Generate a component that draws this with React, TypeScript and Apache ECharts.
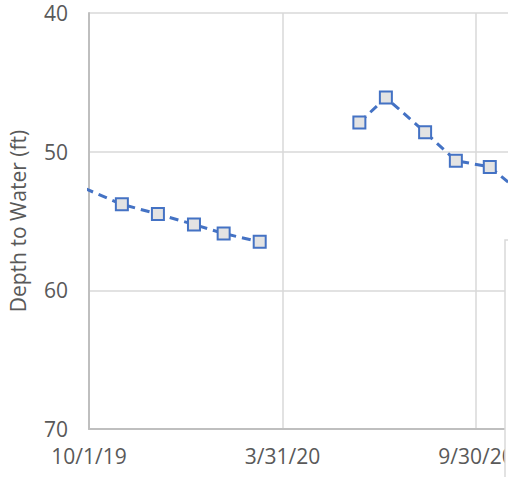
import React, { useEffect, useRef } from "react";
import * as echarts from "echarts";

// Measurement dates (null value = gap in record)
const dates: string[] = [
  "2019-09-01",
  "2019-11-01",
  "2019-12-05",
  "2020-01-08",
  "2020-02-05",
  "2020-03-10",
  "2020-04-20",
  "2020-06-12",
  "2020-07-07",
  "2020-08-13",
  "2020-09-11",
  "2020-10-13",
  "2020-11-12",
];
const depths: (number | null)[] = [
  51.8, 53.8, 54.5, 55.25, 55.9, 56.5, null, 47.9, 46.1, 48.6, 50.65, 51.1, 53.0,
];
const xTickLabels: string[] = ["10/1/19", "3/31/20", "9/30/20", "3/31/21"];
const yTicks: number[] = [40, 50, 60, 70];

const ORIGIN = Date.UTC(2019, 9, 1);
const toDays = (d: string) => {
  const [y, m, dd] = d.split("-").map(Number);
  return (Date.UTC(y, m - 1, dd) - ORIGIN) / 86400000;
};

export default function App() {
  const ref = useRef<HTMLDivElement>(null);
  useEffect(() => {
    if (!ref.current) return;
    const chart = echarts.init(ref.current, undefined, { renderer: "svg" });
    const data = dates.map((d, i) => [toDays(d), depths[i] === null ? "-" : depths[i]]);
    const font = "'Open Sans', 'Noto Sans', sans-serif";
    chart.setOption({
      animation: false,
      backgroundColor: "#ffffff",
      grid: {
        left: 89,
        top: 13,
        right: 30.5,
        bottom: 48,
        containLabel: false,
        outerBoundsMode: "none",
      },
      xAxis: {
        type: "value",
        min: 0,
        max: 547.5,
        interval: 182.5,
        axisLine: { show: true, lineStyle: { color: "#bfbfbf", width: 2 } },
        axisTick: { show: false },
        splitLine: { show: true, lineStyle: { color: "#d9d9d9", width: 1.5 } },
        axisLabel: {
          color: "#595959",
          fontSize: 21,
          fontFamily: font,
          margin: 16,
          showMaxLabel: false,
          formatter: (v: number) => {
            const i = Math.round(v / 182.5);
            return i < 3 ? xTickLabels[i] : "";
          },
        },
      },
      yAxis: {
        type: "value",
        inverse: true,
        min: yTicks[0],
        max: yTicks[yTicks.length - 1],
        interval: 10,
        name: "Depth to Water (ft)",
        nameLocation: "middle",
        nameRotate: 90,
        nameGap: 61,
        nameTextStyle: { color: "#595959", fontSize: 21, fontFamily: font },
        axisLine: { show: true, lineStyle: { color: "#bfbfbf", width: 2 } },
        axisTick: { show: false },
        splitLine: { show: true, lineStyle: { color: "#d9d9d9", width: 1.5 } },
        axisLabel: { color: "#595959", fontSize: 21, fontFamily: font, margin: 21 },
      },
      series: [
        {
          type: "line",
          data,
          connectNulls: false,
          clip: true,
          symbol: "rect",
          symbolSize: 12,
          showAllSymbol: true,
          lineStyle: { color: "#4472c4", width: 3, type: [9, 6] },
          itemStyle: { color: "#e3e3e3", borderColor: "#4472c4", borderWidth: 2 },
        },
      ],
      graphic: [
        {
          type: "rect",
          z: 100,
          shape: { x: 505, y: 240, width: 200, height: 300 },
          style: { fill: "#ffffff", stroke: "#d9d9d9", lineWidth: 1.5 },
        },
      ],
    });
    return () => chart.dispose();
  }, []);
  return (
    <div
      style={{ position: "fixed", left: 0, top: 0, width: 508, height: 477, overflow: "hidden", background: "#fff" }}
    >
      <div ref={ref} style={{ width: 700, height: 477 }} />
    </div>
  );
}
